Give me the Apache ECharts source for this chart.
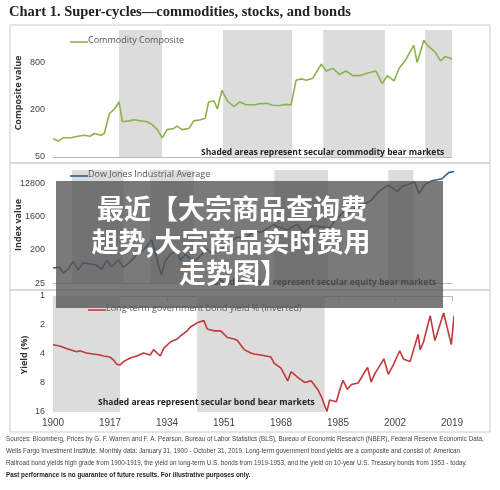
<!DOCTYPE html>
<html><head><meta charset="utf-8">
<script src="https://cdn.jsdelivr.net/npm/echarts@6/dist/echarts.min.js"></script>
<style>html,body{margin:0;padding:0;background:#fff}#c{width:500px;height:490px}</style>
</head><body><div id="c"></div>
<script>
const xTicks = [1900,1917,1934,1951,1968,1985,2002,2019];
const comYears = [1900,1901.5,1903,1905.4,1907.4,1909.4,1911,1912.3,1914.3,1915.3,1916.8,1918.3,1919.7,1920.7,1922.7,1924.2,1926.2,1928.1,1929.6,1931.1,1932.6,1934,1936,1937,1938.5,1940.5,1942,1944,1945.4,1946.4,1948,1949,1950.4,1952,1954,1955.7,1957.5,1959.8,1961.5,1963.7,1965.5,1967.7,1969.5,1971,1972.5,1974,1975.5,1977.5,1980,1981.5,1983.5,1985.4,1987.4,1989.4,1991.4,1994.2,1996.3,1998.2,1999.7,2001.7,2003.2,2005,2006.2,2007.6,2008.6,2010.6,2012,2014,2015.6,2017,2019];
const comVals = [86,80,88,88,92,95,92,100,95,100,179,206,253,141,145,150,145,141,130,112,88,112,116,124,112,116,145,150,157,253,262,206,357,262,220,253,235,232,240,243,230,228,236,232,480,500,480,510,770,630,680,570,630,550,550,600,630,435,550,470,680,850,1053,1345,810,1560,1300,1100,850,970,900];
const dowYears = [1900,1902,1903,1904.5,1906,1907.5,1909,1911,1913,1914.5,1916,1917.5,1919.5,1921,1923,1925,1927,1929.5,1930.5,1932.3,1933.5,1935,1937,1938,1939.5,1942,1944,1946,1947,1949.5,1952,1955,1957.5,1960,1962,1966,1967,1970,1972.8,1974.8,1977,1980,1982.5,1984,1987.7,1987.9,1990,1992,1995,1997,2000,2002.7,2004,2007.8,2009.2,2011,2013,2016,2018,2019.8];
const dowVals = [65,68,47,60,97,58,90,84,78,60,105,70,107,67,95,150,200,380,165,42,100,150,190,105,150,95,140,210,170,180,280,450,420,650,600,990,850,700,1000,580,900,850,800,1200,2700,1900,2700,3200,4500,7500,11500,7600,10500,14000,6800,12000,15000,17000,25000,27000];
const bondYears = [1900,1902,1904,1905,1907,1908,1910,1912,1914,1915,1917,1918,1919,1920,1921,1923,1925,1927,1929,1930,1932,1933,1935,1937,1938,1940,1941,1943,1945,1946,1948,1950,1952,1954,1955,1957,1959,1960,1962,1965,1966,1968,1970,1971,1973,1975,1977,1979,1980,1981.7,1982.5,1984.5,1985.5,1986.5,1987.8,1989,1991,1993.8,1994.9,1996,1998.7,2000,2001.5,2003.4,2004.5,2006.5,2008.9,2009.5,2010.5,2012.5,2013.9,2015,2016.5,2018.8,2019.6,2019.8];
const bondVals = [3.2,3.3,3.5,3.6,3.8,3.7,3.9,4.0,4.1,4.2,4.3,4.6,5.1,5.2,4.8,4.4,4.2,3.9,4.1,3.6,4.2,3.5,3.0,2.8,2.6,2.3,2.1,1.9,1.8,2.2,2.3,2.3,2.7,2.8,2.9,3.6,3.9,4.0,4.1,4.3,5.0,5.6,7.6,6.1,7.0,7.9,7.6,9.4,11.0,15.8,12,12.5,9.5,7.5,9.3,8.3,8.0,5.5,7.8,6.4,4.5,6.5,5.2,3.7,4.5,4.8,2.5,3.6,3.0,1.6,2.9,2.2,1.5,3.2,1.6,1.7];
const comShade = [[1919.7,1932.5],[1950.7,1971.3],[1980.6,1999],[2011,2019]];
const dowShade = [[1905.7,1921],[1929,1942],[1966,1982],[2000,2007.5]];
const bondShade = [[1900,1920],[1943,1981]];

const lg=(v,b,base)=>Math.log(v/base)/Math.log(b);
const mk=(ys,vs,b,base)=>ys.map((y,i)=>[y-1900,lg(vs[i],b,base)]);
const shade=s=>({silent:true,itemStyle:{color:'#dcdcdc'},data:s.map(r=>[{xAxis:r[0]-1900},{xAxis:r[1]-1900}])});
const L=53,R=48;
const grids=[{left:L,right:R,top:30,height:127},{left:L,right:R,top:170,height:113.3},{left:L,right:R,top:296,height:116}];
const xa=i=>({gridIndex:i,type:'value',min:0,max:119,interval:17,
  axisLine:{show:true,lineStyle:{color:'#bbb'}},axisTick:{show:i===2,lineStyle:{color:'#bbb'}},splitLine:{show:false},
  axisLabel:{show:i===2,color:'#444',fontSize:10,margin:6,formatter:v=>String(v+1900)}});
const ylab={color:'#444',fontSize:9,margin:8,showMaxLabel:false};
const ch=echarts.init(document.getElementById('c'));
const T=(x,y,t,o)=>({type:'text',z:50,left:x,top:y,style:Object.assign({text:t,fill:'#555',fontSize:9,fontFamily:'Open Sans'},o||{})});
const S=(y,t,b)=>({type:'text',z:50,x:6,y:y,scaleX:0.9,style:{text:t,fill:b?'#222':'#444',fontSize:7,fontWeight:b?'bold':'normal',fontFamily:'Liberation Sans'}});
ch.setOption({animation:false,grid:grids,
 xAxis:[xa(0),xa(1),xa(2)],
 yAxis:[
  {gridIndex:0,type:'value',min:0,max:2.7,interval:1,axisLine:{show:false},axisTick:{show:false},splitLine:{show:false},axisLabel:Object.assign({formatter:v=>String(Math.round(50*Math.pow(4,v)))},ylab)},
  {gridIndex:1,type:'value',min:0,max:3.4,interval:1,axisLine:{show:false},axisTick:{show:false},splitLine:{show:false},axisLabel:Object.assign({formatter:v=>String(Math.round(25*Math.pow(8,v)))},ylab)},
  {gridIndex:2,type:'value',min:0,max:4,interval:1,inverse:true,axisLine:{show:true,lineStyle:{color:'#bbb'}},axisTick:{show:false},splitLine:{show:false},axisLabel:Object.assign({},ylab,{showMaxLabel:true,formatter:v=>String(Math.pow(2,v))})}],
 series:[
  {type:'line',xAxisIndex:0,yAxisIndex:0,data:mk(comYears,comVals,4,50),showSymbol:false,lineStyle:{color:'#8db24a',width:1.6},markArea:shade(comShade)},
  {type:'line',xAxisIndex:1,yAxisIndex:1,data:mk(dowYears,dowVals,8,25),showSymbol:false,lineStyle:{color:'#2e5c8e',width:1.6},markArea:shade(dowShade)},
  {type:'line',xAxisIndex:2,yAxisIndex:2,data:bondYears.map((y,i)=>[y-1900,Math.log2(bondVals[i])]),showSymbol:false,lineStyle:{color:'#c0393b',width:1.6},markArea:shade(bondShade)}],
 graphic:[
  {type:'rect',shape:{x:10,y:25,width:480,height:138},style:{fill:'none',stroke:'#ccc'}},
  {type:'rect',shape:{x:10,y:163,width:480,height:127},style:{fill:'none',stroke:'#ccc'}},
  {type:'rect',shape:{x:10,y:290,width:480,height:142},style:{fill:'none',stroke:'#ccc'}},
  T(9,5,'Chart 1. Super-cycles\u2014commodities, stocks, and bonds',{fill:'#222',fontSize:14.5,fontWeight:'bold',fontFamily:'Liberation Serif'}),
  {type:'line',z:50,shape:{x1:70,y1:42,x2:88,y2:42},style:{stroke:'#8db24a',lineWidth:1.6}},
  T(88,36,'Commodity Composite'),
  {type:'line',z:50,shape:{x1:70,y1:176,x2:88,y2:176},style:{stroke:'#2e5c8e',lineWidth:1.6}},
  T(88,170,'Dow Jones Industrial Average'),
  {type:'line',z:50,shape:{x1:88,y1:310,x2:106,y2:310},style:{stroke:'#c0393b',lineWidth:1.6}},
  T(106,304,'Long-term government bond yield % (inverted)'),
  T(201,148,'Shaded areas represent secular commodity bear markets',{fill:'#222',fontWeight:'bold',fontSize:8.5}),
  T(214,278,'Shaded areas represent secular equity bear markets',{fill:'#222',fontWeight:'bold',fontSize:8.5}),
  T(98,398,'Shaded areas represent secular bond bear markets',{fill:'#222',fontWeight:'bold',fontSize:8.5}),
  {type:'text',x:18,y:93,rotation:Math.PI/2,style:{text:'Composite value',fill:'#333',fontSize:9,fontWeight:'bold',fontFamily:'Open Sans',align:'center',verticalAlign:'middle'}},
  {type:'text',x:18,y:225,rotation:Math.PI/2,style:{text:'Index value',fill:'#333',fontSize:9,fontWeight:'bold',fontFamily:'Open Sans',align:'center',verticalAlign:'middle'}},
  {type:'text',x:24,y:355,rotation:Math.PI/2,style:{text:'Yield (%)',fill:'#333',fontSize:9,fontWeight:'bold',fontFamily:'Open Sans',align:'center',verticalAlign:'middle'}},
  S(436,'Sources: Bloomberg, Prices by G. F. Warren and F. A. Pearson, Bureau of Labor Statistics (BLS), Bureau of Economic Research (NBER), Federal Reserve Economic Data,'),
  S(448,'Wells Fargo Investment Institute. Monthly data: January 31, 1900 - October 31, 2019. Long-term government bond yields are a composite and consist of: American'),
  S(460,'Railroad bond yields high grade from 1900-1919, the yield on long-term U.S. bonds from 1919-1953, and the yield on 10-year U.S. Treasury bonds from 1953 - today.'),
  S(472,'Past performance is no guarantee of future results. For illustrative purposes only.',true),
  {type:'rect',z:100,shape:{x:56,y:181,width:387,height:127},style:{fill:'rgba(85,85,85,0.78)'}},
  {type:'text',z:101,x:232,y:209,style:{text:'最近【大宗商品查询费',fill:'#fff',fontSize:27,fontWeight:'bold',fontFamily:'Noto Sans CJK SC',align:'center',verticalAlign:'middle'}},
  {type:'text',z:101,x:231,y:242,style:{text:'趄势,大宗商品实时费用',fill:'#fff',fontSize:27,fontWeight:'bold',fontFamily:'Noto Sans CJK SC',align:'center',verticalAlign:'middle'}},
  {type:'text',z:101,x:233,y:273,style:{text:'走势图】',fill:'#fff',fontSize:27,fontWeight:'bold',fontFamily:'Noto Sans CJK SC',align:'center',verticalAlign:'middle'}}
 ]});
</script></body></html>
